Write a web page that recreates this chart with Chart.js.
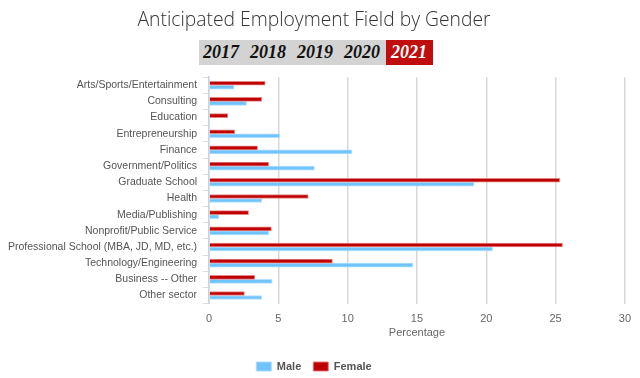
<!DOCTYPE html>
<html>
<head>
<meta charset="utf-8">
<script src="https://cdn.jsdelivr.net/npm/chart.js@4/dist/chart.umd.min.js"></script>
<style>
  html, body { margin: 0; padding: 0; background: #fff; }
  #wrap { position: relative; width: 640px; height: 378px; overflow: hidden; }
  #years { position: absolute; left: 199px; top: 40px; height: 25px; display: flex; }
  #years span { display: block; height: 25px; line-height: 25px; font-family: "Liberation Serif", "DejaVu Serif", serif; font-style: italic; font-weight: bold; font-size: 18px; color: #111; background: #d3d3d3; padding: 0 6px 0 5px; }
  #years span:first-child { padding-left: 4px; }
  #years span.active { background: #c00d0d; color: #fff; padding: 0 6px 0 5px; }
  canvas { position: absolute; left: 0; top: 0; }
</style>
</head>
<body>
<div id="wrap">
  <canvas id="c" width="640" height="378"></canvas>
  <div id="years"><span>2017</span><span>2018</span><span>2019</span><span>2020</span><span class="active">2021</span></div>
</div>
<script>
const categories = [
  "Arts/Sports/Entertainment", "Consulting", "Education", "Entrepreneurship", "Finance",
  "Government/Politics", "Graduate School", "Health", "Media/Publishing",
  "Nonprofit/Public Service", "Professional School (MBA, JD, MD, etc.)",
  "Technology/Engineering", "Business -- Other", "Other sector"
];
const maleValues   = [1.8, 2.7, 0, 5.1, 10.3, 7.6, 19.1, 3.8, 0.7, 4.3, 20.45, 14.7, 4.55, 3.8];
const femaleValues = [4.05, 3.8, 1.35, 1.85, 3.5, 4.3, 25.3, 7.15, 2.85, 4.5, 25.5, 8.9, 3.3, 2.55];
const xTicks = [0, 5, 10, 15, 20, 25, 30];

const RED = "#c00000";
const BLUE = "#6ec4fb";

new Chart(document.getElementById("c"), {
  type: "bar",
  data: {
    labels: categories,
    datasets: [
      { label: "Female", data: femaleValues, backgroundColor: RED, borderColor: "rgba(225,120,120,0.9)", borderWidth: 1, barThickness: 4, categoryPercentage: 0.6 },
      { label: "Male", data: maleValues, backgroundColor: BLUE, borderColor: "rgba(170,220,255,0.9)", borderWidth: 1, barThickness: 4, categoryPercentage: 0.6 }
    ]
  },
  options: {
    indexAxis: "y",
    responsive: false,
    animation: false,
    layout: { padding: { left: 2, right: 14, top: 0, bottom: -4 } },
    plugins: {
      title: {
        display: true,
        text: "Anticipated Employment Field by Gender",
        color: "#333",
        font: { family: "Open Sans", size: 19.3, weight: "300" },
        padding: { top: 9, bottom: 45 }
      },
      legend: {
        position: "bottom",
        reverse: true,
        labels: {
          boxWidth: 15, boxHeight: 9, color: "#555", padding: 12,
          font: { family: "Liberation Sans", size: 11, weight: "bold" }
        }
      },
      tooltip: { enabled: false }
    },
    scales: {
      x: {
        min: 0, max: 30,
        afterBuildTicks: (axis) => { axis.ticks = xTicks.map(v => ({ value: v })); },
        grid: { color: "#d8d8d8", lineWidth: 1.5, drawTicks: false },
        border: { display: false },
        ticks: { color: "#666", padding: 9, font: { family: "Liberation Sans", size: 11 } },
        title: { display: true, text: "Percentage", color: "#666", padding: { top: -8, bottom: 9 }, font: { family: "Liberation Sans", size: 11 } }
      },
      y: {
        grid: { drawOnChartArea: false, color: "#d5dde8", tickLength: 6 },
        border: { display: true, color: "#c9d3df", width: 1.5 },
        ticks: { color: "#555", padding: 6, autoSkip: false, font: { family: "Liberation Sans", size: 10.5 } }
      }
    }
  }
});
</script>
</body>
</html>
